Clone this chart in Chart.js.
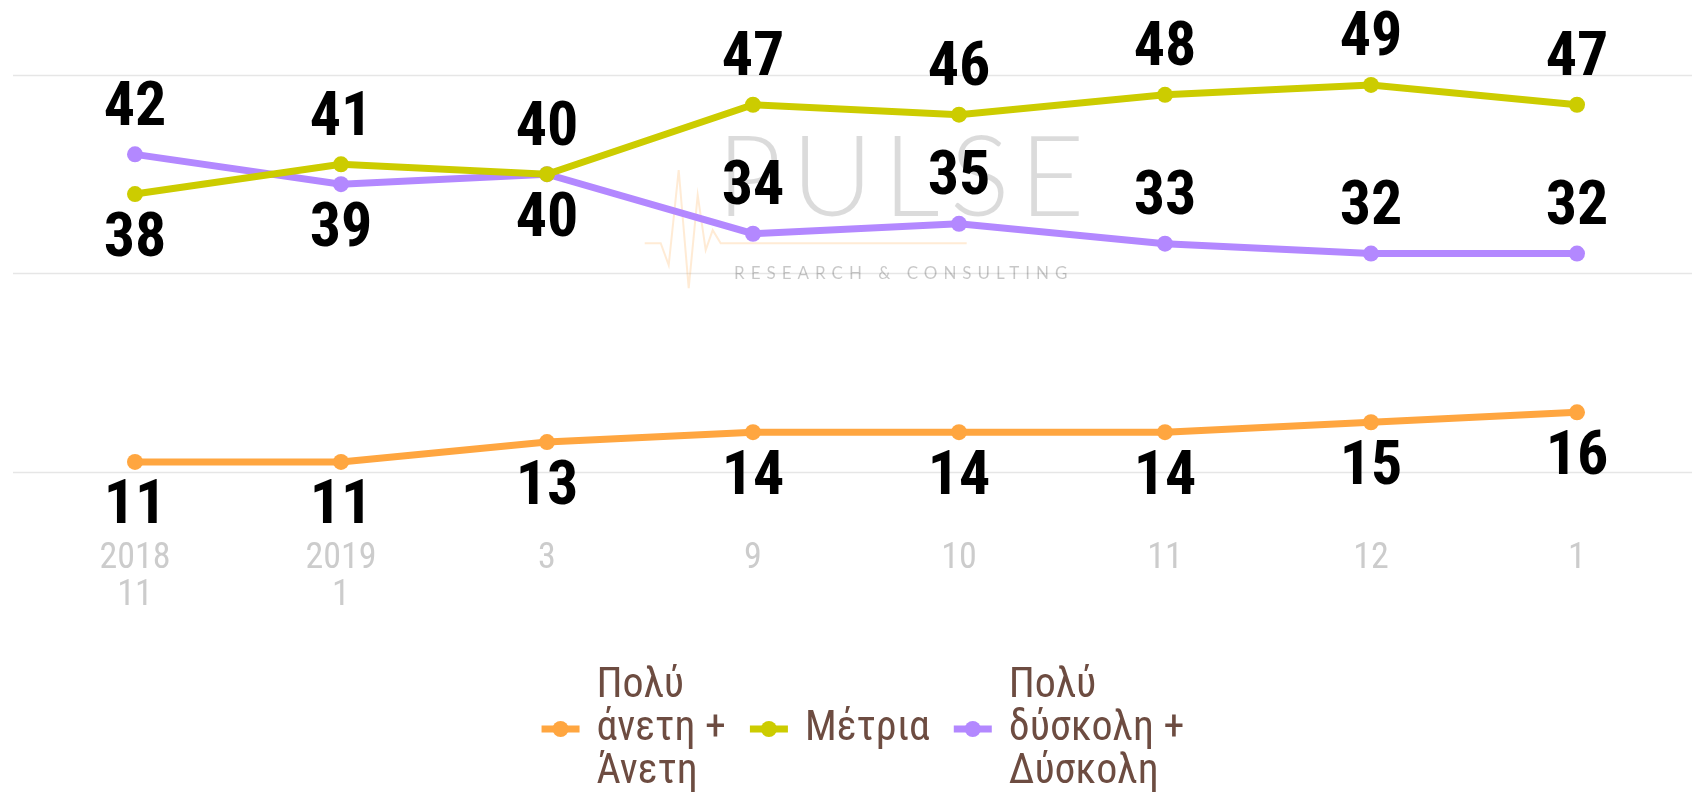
<!DOCTYPE html>
<html>
<head>
<meta charset="utf-8">
<script src="https://cdn.jsdelivr.net/npm/chart.js@4.4.0/dist/chart.umd.min.js"></script>
<style>
  html, body { margin: 0; padding: 0; background: #fff; }
</style>
</head>
<body>
<canvas id="line-chart" width="1692" height="794"></canvas>
<script>
// Survey waves (year / month)
const months = [["2018", "11"], ["2019", "1"], "3", "9", "10", "11", "12", "1"];
const easyValues = [11, 11, 13, 14, 14, 14, 15, 16];
const moderateValues = [38, 41, 40, 47, 46, 48, 49, 47];
const hardValues = [42, 39, 40, 34, 35, 33, 32, 32];
const seriesNames = [["Πολύ", "άνετη +", "Άνετη"], ["Μέτρια"], ["Πολύ", "δύσκολη +", "Δύσκολη"]];
const gridValues = [10, 30, 50];

const narrow = "'Liberation Sans Narrow', 'Roboto Condensed', 'DejaVu Sans Condensed', sans-serif";

// horizontal grid lines across the full width + faint watermark
const backdrop = {
    id: 'backdrop',
    beforeDatasetsDraw(chart) {
        const ctx = chart.ctx;
        const y = chart.scales.y;
        const area = chart.chartArea;
        ctx.save();
        ctx.strokeStyle = '#e6e6e6';
        ctx.lineWidth = 1.5;
        gridValues.forEach(v => {
            const py = Math.round(y.getPixelForValue(v)) + 0.5;
            ctx.beginPath();
            ctx.moveTo(13, py);
            ctx.lineTo(chart.width, py);
            ctx.stroke();
        });

        const cx = area.left + (area.right - area.left) * 0.531;
        const cy = area.top + (area.bottom - area.top) * 0.265;

        // logo pulse line
        const beat = [[-256, 63], [-240, 63], [-232, 85], [-222, -10], [-212, 108], [-203, 15], [-195, 70], [-188, 50], [-180, 63], [66, 63]];
        ctx.strokeStyle = 'rgba(255,166,64,0.22)';
        ctx.lineWidth = 2;
        ctx.beginPath();
        beat.forEach(([dx, dy], i) => i ? ctx.lineTo(cx + dx, cy + dy) : ctx.moveTo(cx + dx, cy + dy));
        ctx.stroke();

        ctx.textAlign = 'center';
        ctx.textBaseline = 'middle';
        ctx.fillStyle = 'rgba(0,0,0,0.14)';
        ctx.font = "300 112px Lato, 'Open Sans', sans-serif";
        ctx.letterSpacing = '10px';
        ctx.fillText('PULSE', cx + 5, cy);
        ctx.font = "17px Lato, 'Open Sans', sans-serif";
        ctx.letterSpacing = '6px';
        ctx.fillStyle = 'rgba(0,0,0,0.22)';
        ctx.fillText('RESEARCH & CONSULTING', cx + 3, cy + 93);
        ctx.restore();
    }
};

// value labels above / below the points
const valueLabels = {
    id: 'valueLabels',
    afterDatasetsDraw(chart) {
        const ctx = chart.ctx;
        const sets = chart.data.datasets;
        ctx.save();
        ctx.font = `bold 62px ${narrow}`;
        ctx.fillStyle = '#000';
        ctx.textAlign = 'center';
        ctx.textBaseline = 'middle';
        sets.forEach((ds, di) => {
            chart.getDatasetMeta(di).data.forEach((pt, i) => {
                const v = ds.data[i];
                let below = ds.labelSide === 'below';
                if (!ds.labelSide) {
                    sets.forEach((other, oi) => {
                        if (oi === di || other.labelSide) return;
                        const ov = other.data[i];
                        if ((ov > v && ov - v <= 5) || (ov === v && oi < di)) below = true;
                    });
                }
                ctx.fillText(v, pt.x, pt.y + (below ? 46 : -45));
            });
        });
        ctx.restore();
    }
};

// legend with multi-line names, marker centred on the middle line
const bottomLegend = {
    id: 'bottomLegend',
    afterDraw(chart) {
        const ctx = chart.ctx;
        const lineH = 43, markW = 38, gapText = 17, gapItem = 24;
        ctx.save();
        ctx.font = `42px ${narrow}`;
        const items = chart.data.datasets.map(ds => ({
            lines: ds.legendLines,
            w: Math.max(...ds.legendLines.map(l => ctx.measureText(l).width)),
            color: ds.borderColor
        }));
        const total = items.reduce((s, it) => s + markW + gapText + it.w, 0) + gapItem * (items.length - 1);
        let x = (chart.chartArea.left + chart.chartArea.right) / 2 - total / 2 + 7;
        const midY = chart.height - 65;
        items.forEach(it => {
            ctx.strokeStyle = it.color;
            ctx.lineWidth = 7;
            ctx.beginPath();
            ctx.moveTo(x, midY);
            ctx.lineTo(x + markW, midY);
            ctx.stroke();
            ctx.fillStyle = it.color;
            ctx.beginPath();
            ctx.arc(x + markW / 2, midY, 8, 0, Math.PI * 2);
            ctx.fill();

            const tx = x + markW + gapText;
            ctx.fillStyle = '#6d4c41';
            ctx.textAlign = 'left';
            ctx.textBaseline = 'middle';
            const n = it.lines.length;
            it.lines.forEach((l, li) => ctx.fillText(l, tx, midY + (li - (n - 1) / 2) * lineH));
            x = tx + it.w + gapItem;
        });
        ctx.restore();
    }
};

function series(name, values, color, side) {
    return {
        label: name.join(' '),
        legendLines: name,
        data: values,
        borderColor: color,
        backgroundColor: color,
        borderWidth: 7,
        pointRadius: 8,
        pointBorderWidth: 0,
        pointBackgroundColor: color,
        tension: 0,
        fill: false,
        labelSide: side
    };
}

const ctxLine = document.getElementById('line-chart').getContext('2d');
const lineChart = new Chart(ctxLine, {
    type: 'line',
    data: {
        labels: months,
        datasets: [
            series(seriesNames[0], easyValues, '#ffa640', 'below'),
            series(seriesNames[1], moderateValues, '#cccc00'),
            series(seriesNames[2], hardValues, '#b388ff')
        ]
    },
    options: {
        responsive: false,
        animation: false,
        layout: { padding: { left: 135, right: 115, top: 75, bottom: 110 } },
        plugins: {
            legend: { display: false },
            tooltip: { enabled: false }
        },
        scales: {
            x: {
                offset: false,
                grid: { display: false, drawTicks: false },
                border: { display: false },
                ticks: {
                    color: '#cccccc',
                    font: { family: narrow, size: 36, lineHeight: 1.03 },
                    padding: 69,
                    maxRotation: 0,
                    autoSkip: false
                }
            },
            y: {
                display: false,
                min: 10,
                max: 50
            }
        }
    },
    plugins: [backdrop, valueLabels, bottomLegend]
});
</script>
</body>
</html>
